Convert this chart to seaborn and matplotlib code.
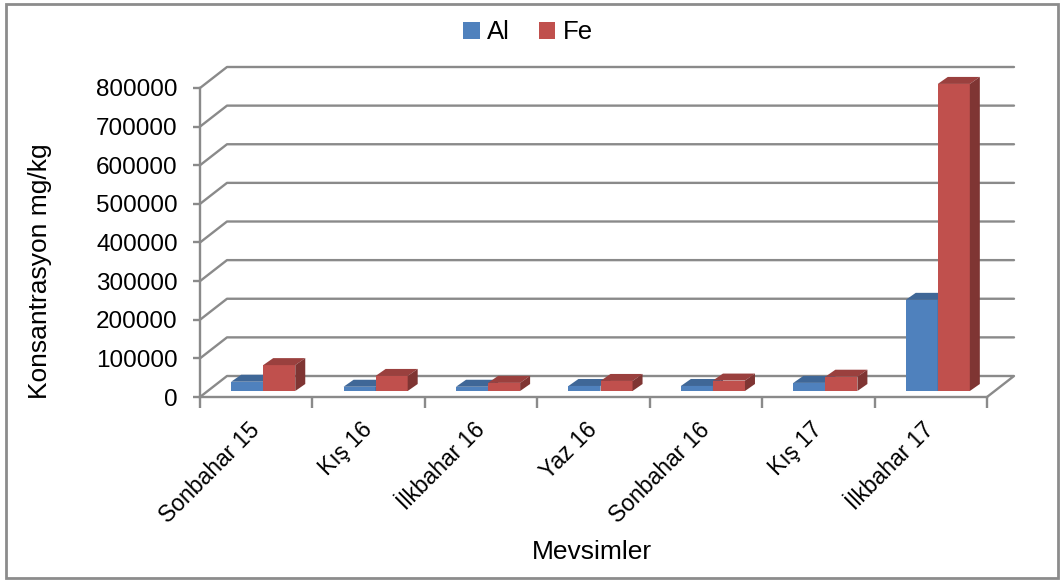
import matplotlib
matplotlib.use("Agg")
import matplotlib.pyplot as plt
import numpy as np
import pandas as pd
import seaborn as sns
from matplotlib.patches import Polygon, Rectangle
from matplotlib.lines import Line2D
import matplotlib.colors as mcolors

# Seasonal concentrations (mg/kg)
seasons = ["Sonbahar 15", "Kış 16", "İlkbahar 16", "Yaz 16",
           "Sonbahar 16", "Kış 17", "İlkbahar 17"]
elements = ["Al", "Fe"]
al_values = [24000, 11000, 11000, 13000, 13000, 21000, 236000]
fe_values = [67000, 39000, 21000, 26000, 27000, 37000, 795000]
y_ticks = [0, 100000, 200000, 300000, 400000, 500000, 600000, 700000, 800000]

sns.set_theme(style="white")
plt.rcParams["font.family"] = ["Liberation Sans", "DejaVu Sans"]
plt.rcParams["text.color"] = "black"

df = pd.DataFrame({
    "Mevsim": seasons * 2,
    "Element": ["Al"] * len(seasons) + ["Fe"] * len(seasons),
    "Değer": al_values + fe_values,
})

W, H = 1064, 581
fig = plt.figure(figsize=(W / 100, H / 100), dpi=100)
fig.patch.set_facecolor("white")

# front plane of the plot area, in pixels
x0_px, x1_px, y0_px, y1_px = 200, 987, 397, 88
ax = fig.add_axes([x0_px / W, (H - y0_px) / H, (x1_px - x0_px) / W, (y0_px - y1_px) / H])

palette = {"Al": "#4f81bd", "Fe": "#c0504d"}
sns.barplot(data=df, x="Mevsim", y="Değer", hue="Element", order=seasons,
            hue_order=elements, palette=palette, width=0.57, saturation=1,
            legend=False, ax=ax, zorder=3)

ax.set_xlim(-0.5, len(seasons) - 0.5)
ax.set_ylim(y_ticks[0], y_ticks[-1])

# pixel -> data scale
px_x = len(seasons) / (x1_px - x0_px)
px_y = (y_ticks[-1] - y_ticks[0]) / (y0_px - y1_px)

# depth of the walls
DX, DY = 27 * px_x, 21 * px_y
grid_c = "#8a8a8a"
xl, xr = -0.5, len(seasons) - 0.5

# back wall gridlines with their diagonal connectors
for t in y_ticks[1:]:
    ax.add_line(Line2D([xl, xl + DX, xr + DX], [t, t + DY, t + DY],
                       color=grid_c, lw=1.7, clip_on=False, zorder=1))
# floor
ax.add_line(Line2D([xl, xl + DX, xr + DX, xr], [0, DY, DY, 0],
                   color=grid_c, lw=1.7, clip_on=False, zorder=1))


def shade(c, f):
    r, g, b = mcolors.to_rgb(c)
    return (r * f, g * f, b * f)


# extrude the bars into 3D-looking columns
bdx, bdy = 10 * px_x, 7 * px_y
sx, sy = 7 * px_x, 6 * px_y
bars = [p for p in ax.patches if isinstance(p, Rectangle)]
n = len(seasons)
for i, p in enumerate(bars):
    z = 3 if i < n else 4
    p.set_zorder(z)
    p.set_clip_on(False)
    p.set_x(p.get_x() + sx)
    p.set_y(p.get_y() + sy)
    p.set_edgecolor("none")
    xa = p.get_x()
    xb = xa + p.get_width()
    yb = p.get_y()
    yt = yb + p.get_height()
    fc = p.get_facecolor()
    top = Polygon([(xa, yt), (xb, yt), (xb + bdx, yt + bdy), (xa + bdx, yt + bdy)],
                  closed=True, facecolor=shade(fc, 0.8), edgecolor="none",
                  zorder=z + 0.1, clip_on=False)
    side = Polygon([(xb, yb), (xb, yt), (xb + bdx, yt + bdy), (xb + bdx, yb + bdy)],
                   closed=True, facecolor=shade(fc, 0.66), edgecolor="none",
                   zorder=z + 0.1, clip_on=False)
    ax.add_patch(top)
    ax.add_patch(side)

# axes styling
for s in ["top", "right"]:
    ax.spines[s].set_visible(False)
for s in ["left", "bottom"]:
    ax.spines[s].set_color(grid_c)
    ax.spines[s].set_linewidth(1.7)
    ax.spines[s].set_zorder(2)

ax.set_yticks(y_ticks)
ax.set_yticklabels([str(t) for t in y_ticks])
ax.tick_params(axis="y", direction="out", length=5, width=1.7, color=grid_c,
               labelsize=17.5, pad=11, left=True, labelcolor="black")

ax.set_xticks(range(n))
ax.set_xticks(np.arange(-0.5, n, 1.0), minor=True)
ax.tick_params(axis="x", which="major", length=0, pad=21, labelsize=16.5,
               labelcolor="black")
ax.tick_params(axis="x", which="minor", direction="out", length=8, width=1.7,
               color=grid_c, bottom=True)
ax.set_xticklabels(seasons)
for lab in ax.get_xticklabels():
    lab.set_rotation(45)
    lab.set_ha("right")
    lab.set_va("center")
    lab.set_rotation_mode("anchor")

ax.set_xlabel("")
ax.set_ylabel("")
ax.patch.set_alpha(0)

fig.text(40 / W, 1 - 271 / H, "Konsantrasyon mg/kg", rotation=90,
         ha="center", va="center", fontsize=19, color="black")
fig.text(592 / W, 1 - 552 / H, "Mevsimler", ha="center", va="center",
         fontsize=19, color="black")

handles = [Rectangle((0, 0), 1, 1, facecolor=palette[e], edgecolor="none") for e in elements]
fig.legend(handles, elements, loc="upper center", bbox_to_anchor=(528 / W, 1 + 3 / H),
           ncol=2, frameon=False, fontsize=18.5, handlelength=0.65, handleheight=0.65,
           handletextpad=0.3, columnspacing=1.1)

# chart border
fig.add_artist(Rectangle((6 / W, 3 / H), (1058 - 6) / W, (577 - 3) / H,
                         transform=fig.transFigure, fill=False,
                         edgecolor="#8c8c8c", lw=2))

fig.savefig("out.png", dpi=100, facecolor="white")
